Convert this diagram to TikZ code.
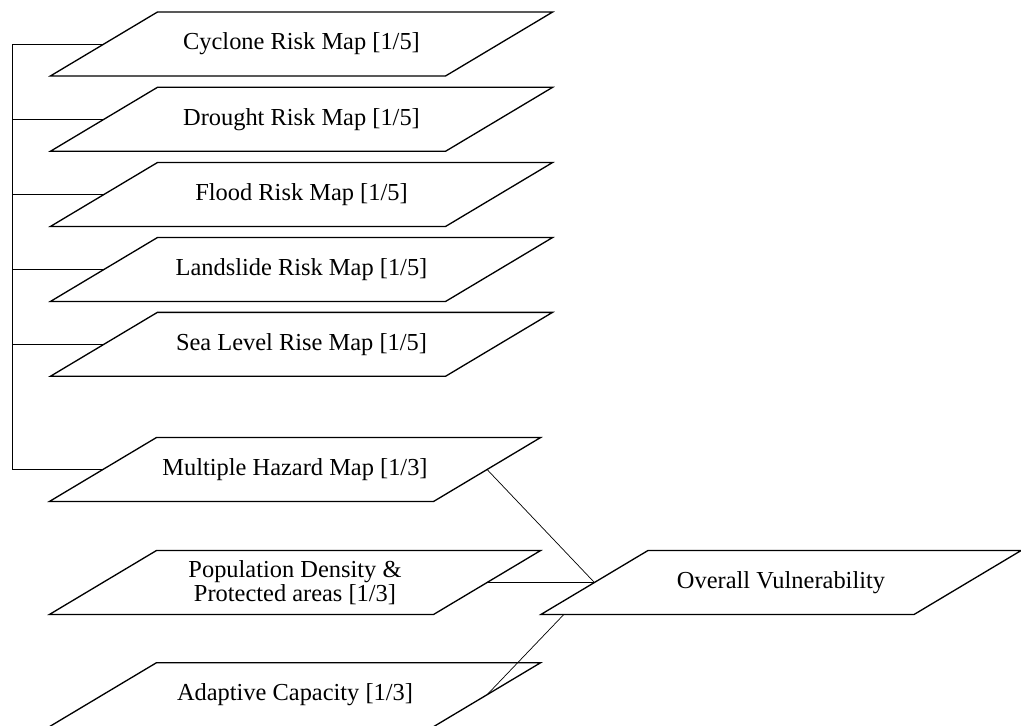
\documentclass[tikz,border=0pt]{standalone}
\usepackage{fontspec}
\setmainfont{Liberation Serif}
\usetikzlibrary{backgrounds}
\tikzset{>=latex}
\tikzset{mapbox/.style={rectangle,minimum width=7.88cm,minimum height=1.254cm,inner sep=1pt,align=center,font=\fontsize{13.9}{13.3}\selectfont},
  mapedge/.style={draw,line width=0.75pt,line join=miter}}
\newcommand{\mapoutline}[2][]{\draw[mapedge,#1] ([xshift=-1.07cm]#2.south west) -- ([xshift=1.07cm]#2.north west) -- ([xshift=1.07cm]#2.north east) -- ([xshift=-1.07cm]#2.south east) -- cycle;}

\begin{document}
\begin{tikzpicture}[x=0.02cm,y=-0.02cm,line width=0.7pt]
  \useasboundingbox (0,0) rectangle (1021,726);
  \node[mapbox] (cyclone) at (301.5,44) {Cyclone Risk Map [1/5]};
  \node[mapbox] (drought) at (301.5,119.3) {Drought Risk Map [1/5]};
  \node[mapbox] (flood) at (301.5,194.5) {Flood Risk Map [1/5]};
  \node[mapbox] (landslide) at (301.5,269.5) {Landslide Risk Map [1/5]};
  \node[mapbox] (sealevel) at (301.5,344.3) {Sea Level Rise Map [1/5]};
  \node[mapbox,minimum width=7.66cm] (multi) at (295,469.5) {Multiple Hazard Map [1/3]};
  \node[mapbox,minimum width=7.66cm] (popdens) at (295,582.5) {Population Density \&\\Protected areas [1/3]};
  \node[mapbox,minimum width=7.66cm] (adapt) at (295,694.7) {Adaptive Capacity [1/3]};
  \node[mapbox,minimum width=7.44cm] (overall) at (781,582.5) {Overall Vulnerability};
  \coordinate (bus) at (12.7,44);
  \begin{scope}[on background layer]
    \draw (cyclone.west) -- (cyclone.west -| bus) |- (multi.west);
    \foreach \n in {drought,flood,landslide,sealevel}
      \draw (\n.west) -- (\n.west -| bus);
    \draw (multi.east) -- (overall.west);
    \draw (popdens.east) -- (overall.west);
    \draw (adapt.east) -- (overall.west);
    \foreach \n in {cyclone,drought,flood,landslide,sealevel,multi,popdens,adapt}
      {\mapoutline{\n}}
    \mapoutline[fill=white]{overall}
  \end{scope}
\end{tikzpicture}
\end{document}
